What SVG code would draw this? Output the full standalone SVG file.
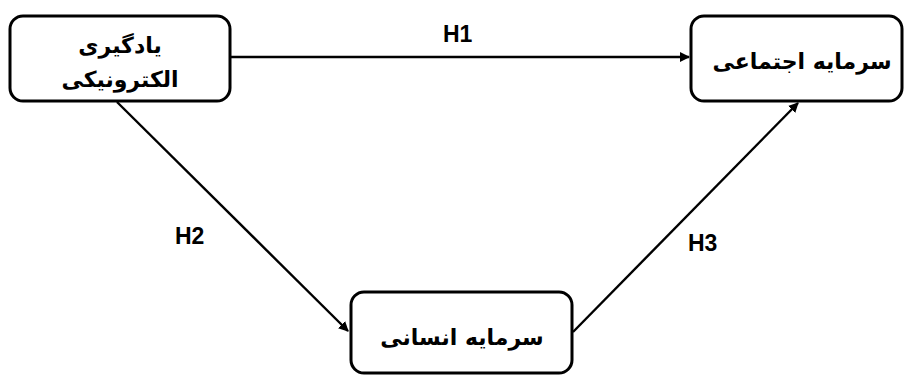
<svg xmlns="http://www.w3.org/2000/svg" width="904" height="375" viewBox="0 0 904 375">
<style>
.box{fill:#fff;stroke:#000;stroke-width:3}
.fa{font-family:"DejaVu Sans",sans-serif;font-weight:bold;font-size:22px;text-anchor:middle;fill:#000}
.h{font-family:"Liberation Sans",Arial,sans-serif;font-weight:bold;font-size:23px;fill:#000}
.edge{stroke:#000;stroke-width:2.4;fill:none;marker-end:url(#ah)}
</style>
<defs>
<marker id="ah" viewBox="0 0 10 10" refX="9" refY="5" markerWidth="4.2" markerHeight="4.2" orient="auto" markerUnits="strokeWidth">
<path d="M0,0 L10,5 L0,10 z" fill="#000"/>
</marker>
</defs>
<rect width="904" height="375" fill="#fff"/>
<g id="connectors">
<line class="edge" x1="230" y1="57" x2="689" y2="57"/>
<line class="edge" x1="117" y1="102" x2="348" y2="331"/>
<line class="edge" x1="573" y1="332" x2="798" y2="103"/>
</g>
<g id="labels">
<text class="h" x="443" y="42">H1</text>
<text class="h" x="175" y="244">H2</text>
<text class="h" x="688" y="251">H3</text>
</g>
<g id="node-elearning">
<rect class="box" x="10" y="16" width="220" height="85" rx="13"/>
<text class="fa" x="120" y="53" direction="rtl">یادگیری</text>
<text class="fa" x="120" y="87" direction="rtl">الکترونیکی</text>
</g>
<g id="node-social">
<rect class="box" x="691" y="16" width="211" height="85" rx="13"/>
<text class="fa" x="802" y="69" direction="rtl">سرمایه اجتماعی</text>
</g>
<g id="node-human">
<rect class="box" x="351" y="292" width="221" height="81" rx="13"/>
<text class="fa" x="462" y="345" direction="rtl">سرمایه انسانی</text>
</g>
</svg>
